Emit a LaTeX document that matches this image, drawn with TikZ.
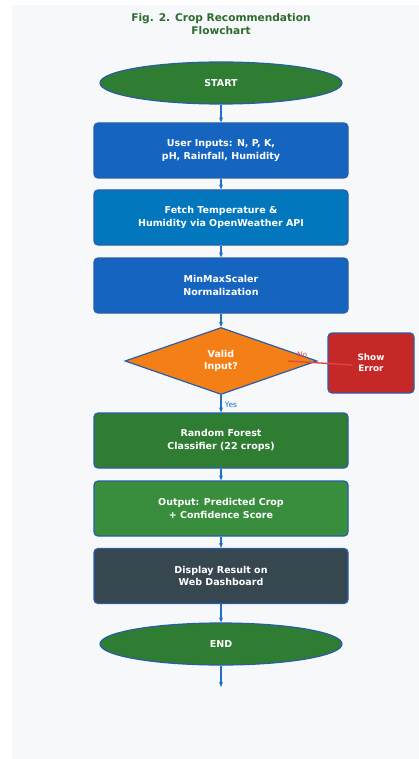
\documentclass[tikz,border=0pt]{standalone}
\usepackage{fontspec}
\setmainfont{DejaVu Sans}
\usetikzlibrary{positioning,shapes.geometric,arrows.meta}

\definecolor{panel}{HTML}{F6F8F9}
\definecolor{edgeblue}{HTML}{2A5DA8}
\definecolor{arrowblue}{HTML}{1E6FC8}
\definecolor{titlegreen}{HTML}{2E6B2E}
\definecolor{termgreen}{HTML}{2E7D32}
\definecolor{stepblue}{HTML}{1565C0}
\definecolor{fetchblue}{HTML}{0277BD}
\definecolor{rfgreen}{HTML}{2E7D32}
\definecolor{outgreen}{HTML}{388E3C}
\definecolor{slate}{HTML}{37474F}
\definecolor{decorange}{HTML}{F57F17}
\definecolor{errred}{HTML}{C62828}
\definecolor{noline}{HTML}{E04545}

\tikzset{
  txt/.style={text=white,font=\fontsize{9.5}{12.5}\selectfont\bfseries,align=center},
  term/.style={ellipse,draw=edgeblue,line width=1.2pt,fill=termgreen,txt,
    minimum width=242pt,minimum height=42pt,inner sep=0pt},
  procbox/.style={rectangle,rounded corners=4pt,draw=edgeblue,line width=1.2pt,txt,
    minimum width=254pt,minimum height=55pt,inner sep=0pt},
  decision/.style={diamond,draw=edgeblue,line width=1.2pt,fill=decorange,txt,
    minimum width=192pt,minimum height=67pt,inner sep=0pt},
  flow/.style={-{Stealth[length=5pt,width=4pt]},arrowblue,line width=1.3pt},
}

\begin{document}
\begin{tikzpicture}[x=1pt,y=-1pt]
\useasboundingbox (0,0) rectangle (419,759);
\fill[panel] (12,5) rectangle (419,759);

\node[text=titlegreen,font=\fontsize{10.6}{12.5}\selectfont\bfseries,align=center] (title) at (221,24)
  {Fig. 2. Crop Recommendation\\Flowchart};

\node[term] (start) at (221,83) {START};
\node[procbox,fill=stepblue] (inputs) at (221,150.5) {User Inputs: N, P, K,\\pH, Rainfall, Humidity};
\node[procbox,fill=fetchblue] (fetch) at (221,217.5) {Fetch Temperature \&\\Humidity via OpenWeather API};
\node[procbox,fill=stepblue] (scale) at (221,285.5) {MinMaxScaler\\Normalization};
\node[decision] (valid) at (221,361) {Valid\\Input?};
\node[procbox,fill=errred,minimum width=86pt,minimum height=60pt,font=\fontsize{8.8}{11}\selectfont\bfseries] (err) at (371,363) {Show\\Error};
\node[procbox,fill=rfgreen] (rf) at (221,440.5) {Random Forest\\Classifier (22 crops)};
\node[procbox,fill=outgreen] (out) at (221,508.5) {Output: Predicted Crop\\+ Confidence Score};
\node[procbox,fill=slate] (show) at (221,576) {Display Result on\\Web Dashboard};
\node[term] (end) at (221,644) {END};
\coordinate (tail) at (221,687);

% main flow
\draw[flow] (start) -- (inputs);
\draw[flow] (inputs) -- (fetch);
\draw[flow] (fetch) -- (scale);
\draw[flow] (scale) -- (valid);
\draw[flow] (valid) -- node[right,text=arrowblue,font=\fontsize{7.5}{9}\selectfont,pos=0.55] {Yes} (rf);
\draw[flow] (rf) -- (out);
\draw[flow] (out) -- (show);
\draw[flow] (show) -- (end);
\draw[flow] (end) -- (tail);

% error branch
\draw[noline,line width=1.3pt] ([xshift=67pt]valid.center) -- node[above,pos=0.22,text=noline,font=\fontsize{7.5}{9}\selectfont] {No} ([xshift=25pt,yshift=-2pt]err.west);
\end{tikzpicture}
\end{document}
